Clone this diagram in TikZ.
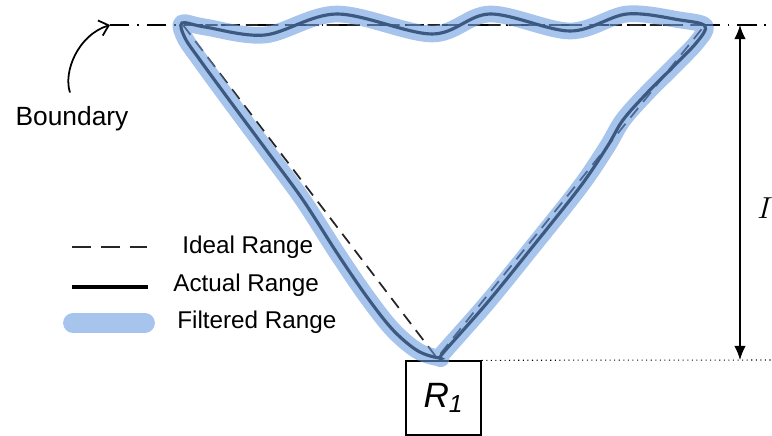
\documentclass[tikz,border=0pt]{standalone}
\usepackage{fontspec}
\setmainfont{Liberation Sans}
\usepackage{tikz}
\usetikzlibrary{positioning,arrows.meta}

\definecolor{rangeblue}{RGB}{103,154,222}

\begin{document}
\begin{tikzpicture}[x=0.02cm, y=-0.02cm,
    every node/.style={font=\fontsize{13.8}{16}\selectfont},
    ideal/.style={draw=black!85, line width=1pt, dash pattern=on 7pt off 4.5pt},
    actual/.style={draw=black, line width=1.8pt},
    filtered/.style={draw=rangeblue, draw opacity=0.585, line width=9.5pt, line cap=round, line join=round},
    bound/.style={draw=black, line width=0.8pt, dash pattern=on 11pt off 4.5pt on 1pt off 4.5pt}]
    \useasboundingbox (0,0) rectangle (772,436);

    % corners of the ideal range
    \coordinate (tl) at (183,25);
    \coordinate (tr) at (705,25);
    \coordinate (apex) at (437,358);
    \coordinate (bleft) at (110,25);
    \coordinate (bright) at (772,25);
    \coordinate (dimtop) at (740,25);
    \coordinate (dimbot) at (740,360);

    \node[draw, line width=0.8pt, minimum width=1.5cm, minimum height=1.48cm, inner sep=0pt,
          font=\fontsize{20}{22}\selectfont\itshape] (r1) at (443.5,398) {R\textsubscript{1}};
    \coordinate (dotend) at (772,360);
    \node[font=\fontsize{15}{18}\selectfont] (bnd) at (72,119) {Boundary};
    \node[font=\fontsize{17}{18}\selectfont] (len) at (765,208) {$I$};

    % boundary and heights
    \draw[bound] (bleft) -- (bright);
    \draw[black, line width=0.6pt, dotted] (r1.north east) -- (dotend);
    \draw[line width=0.8pt, {Latex[length=8pt,width=6.5pt]}-{Latex[length=8pt,width=6.5pt]}] (dimtop) -- (dimbot);
    \draw[line width=1pt, -{Straight Barb[length=5pt,width=9pt]}] (bnd.north) ++(-2,-8) .. controls (63,72) and (78,35) .. (bleft);

    % ranges
    \draw[ideal] (tl) -- (apex) -- (tr) -- cycle;
    \draw[actual] plot[smooth cycle, tension=0.55] coordinates {
        (440,358) (443,353) (487,303) (530,250) (580,187) (607,147) (623,120) (647,93)
        (673,67) (697,42) (705,26) (680,20) (627,14) (570,31) (490,14) (432,34)
        (337,14) (265,35) (205,27) (182,23) (185,38) (200,60) (227,97) (270,155)
        (303,200) (337,253) (367,297) (393,330) (418,351)};
    \draw[filtered] plot[smooth cycle, tension=0.55] coordinates {
        (440,358) (443,353) (487,303) (530,250) (580,187) (607,147) (623,120) (647,93)
        (673,67) (697,42) (705,26) (680,20) (627,14) (570,31) (490,14) (432,34)
        (337,14) (265,35) (205,27) (182,23) (185,38) (200,60) (227,97) (270,155)
        (303,200) (337,253) (367,297) (393,330) (418,351)};

    % legend
    \coordinate (l1a) at (72,247);
    \coordinate (l1b) at (147,247);
    \coordinate (l2a) at (72,287);
    \coordinate (l2b) at (148,287);
    \coordinate (l3a) at (73,323);
    \coordinate (l3b) at (145,323);
    \draw[ideal, dash pattern=on 11pt off 5.5pt] (l1a) -- (l1b);
    \draw[actual, line width=2.3pt] (l2a) -- (l2b);
    \draw[filtered, line width=11.3pt] (l3a) -- (l3b);
    \node[anchor=west, inner sep=0pt] (lgideal) at (182,247) {Ideal Range};
    \node[anchor=west, inner sep=0pt] (lgactual) at (173,285) {Actual Range};
    \node[anchor=west, inner sep=0pt] (lgfilt) at (177,322) {Filtered Range};
\end{tikzpicture}
\end{document}
